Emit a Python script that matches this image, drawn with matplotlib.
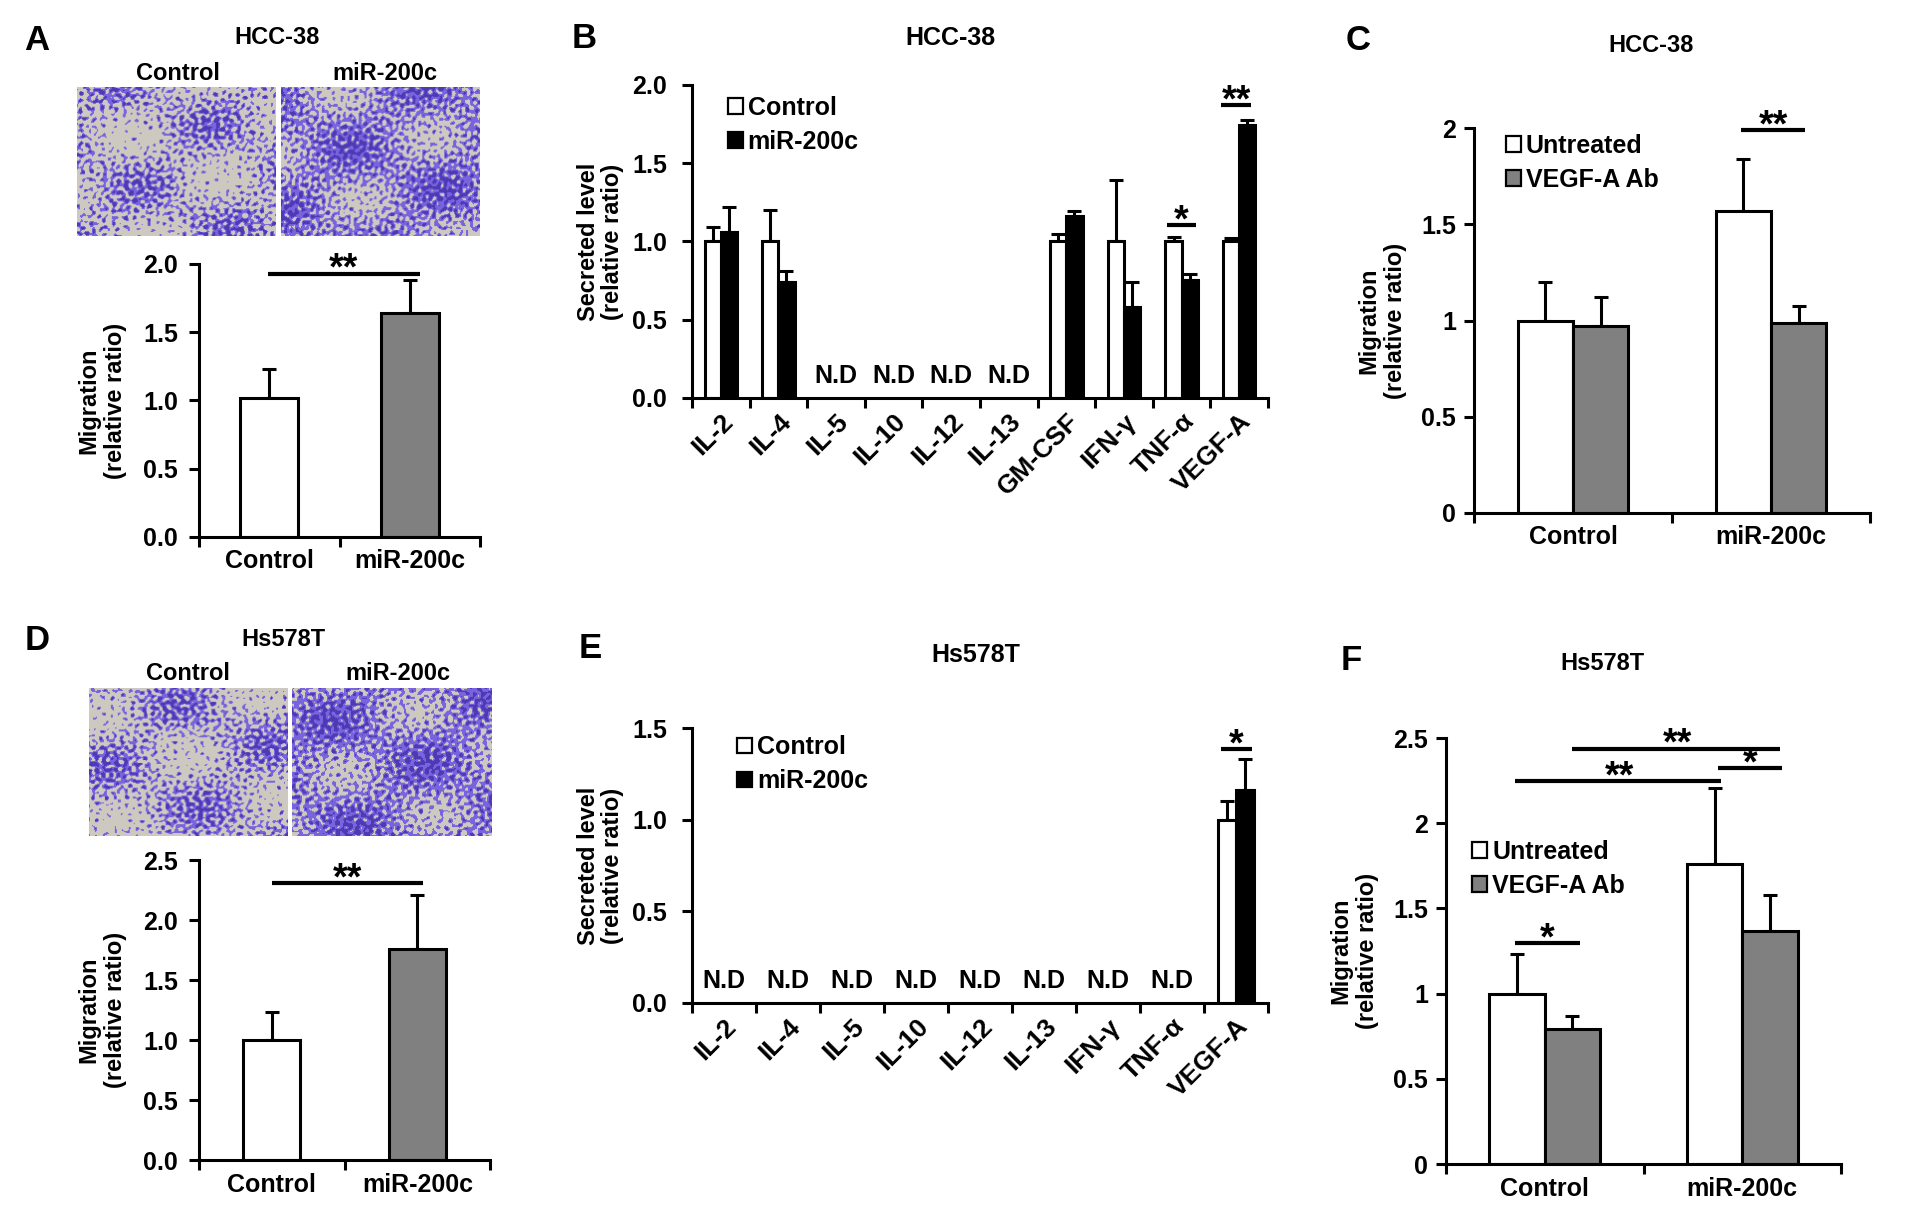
import numpy as np
import matplotlib
matplotlib.use("Agg")
import matplotlib.pyplot as plt
from matplotlib.patches import Patch
from matplotlib import font_manager

# ---- data ----
# A: HCC-38 transwell migration
a_groups = ["Control", "miR-200c"]
a_means = [1.02, 1.64]
a_errs = [0.21, 0.24]

# B: HCC-38 secreted cytokines (nan = not detected)
nd = np.nan
b_cats = ["IL-2", "IL-4", "IL-5", "IL-10", "IL-12", "IL-13", "GM-CSF", "IFN-γ", "TNF-α", "VEGF-A"]
b_ctrl = [1.0, 1.0, nd, nd, nd, nd, 1.0, 1.0, 1.0, 1.0]
b_ctrl_err = [0.09, 0.20, nd, nd, nd, nd, 0.05, 0.39, 0.03, 0.02]
b_mir = [1.06, 0.74, nd, nd, nd, nd, 1.16, 0.58, 0.755, 1.745]
b_mir_err = [0.16, 0.07, nd, nd, nd, nd, 0.035, 0.16, 0.035, 0.03]

# C: HCC-38 migration with VEGF-A antibody
c_groups = ["Control", "miR-200c"]
c_untr = [1.0, 1.57]
c_untr_err = [0.20, 0.27]
c_vegf = [0.97, 0.985]
c_vegf_err = [0.15, 0.09]

# D: Hs578T transwell migration
d_groups = ["Control", "miR-200c"]
d_means = [1.0, 1.76]
d_errs = [0.235, 0.45]

# E: Hs578T secreted cytokines
e_cats = ["IL-2", "IL-4", "IL-5", "IL-10", "IL-12", "IL-13", "IFN-γ", "TNF-α", "VEGF-A"]
e_ctrl = [nd, nd, nd, nd, nd, nd, nd, nd, 1.0]
e_ctrl_err = [nd, nd, nd, nd, nd, nd, nd, nd, 0.10]
e_mir = [nd, nd, nd, nd, nd, nd, nd, nd, 1.16]
e_mir_err = [nd, nd, nd, nd, nd, nd, nd, nd, 0.17]

# F: Hs578T migration with VEGF-A antibody
f_groups = ["Control", "miR-200c"]
f_untr = [1.0, 1.76]
f_untr_err = [0.235, 0.445]
f_vegf = [0.795, 1.37]
f_vegf_err = [0.075, 0.21]

# ---- fonts ----
plt.rcParams["font.family"] = ["Liberation Sans", "DejaVu Sans"]
plt.rcParams["font.weight"] = "bold"
names = {f.name for f in font_manager.fontManager.ttflist}
NARROW = ["Liberation Sans Narrow", "Liberation Sans", "DejaVu Sans"] if "Liberation Sans Narrow" in names \
    else ["Liberation Sans", "DejaVu Sans"]

W, H = 1907, 1214
fig = plt.figure(figsize=(W / 100, H / 100), dpi=100)
fig.patch.set_facecolor("white")

GRAY = "#808080"
LW = 2.2
TICK = 18      # y tick labels
XLAB = 18      # x tick labels (upright)
STAR = 27


def px_axes(l, t, r, b):
    return fig.add_axes([l / W, 1 - b / H, (r - l) / W, (b - t) / H])


def ftext(x, y, s, size, family=None, **kw):
    fig.text(x / W, 1 - y / H, s, fontsize=size, fontweight="bold", ha="center", va="center",
             family=family, **kw)


def style(ax, ymax, ystep, fmt, labels, xsize, ysize, rot=0, family=None, pad=9, ypad=6):
    n = len(labels)
    ax.set_xlim(-0.5, n - 0.5)
    ax.set_ylim(0, ymax)
    for s in ["top", "right"]:
        ax.spines[s].set_visible(False)
    for s in ["left", "bottom"]:
        ax.spines[s].set_linewidth(LW)
    yt = np.arange(0, ymax + 1e-9, ystep)
    ax.set_yticks(yt)
    ax.set_yticklabels([fmt(v) for v in yt], fontsize=ysize, fontweight="bold", family=family)
    ax.set_xticks(np.arange(-0.5, n, 1.0))
    ax.set_xticklabels([])
    ax.set_xticks(np.arange(n), minor=True)
    if rot:
        ax.set_xticklabels(labels, minor=True, fontsize=xsize, fontweight="bold", rotation=rot,
                           ha="right", va="top", rotation_mode="anchor")
    else:
        ax.set_xticklabels(labels, minor=True, fontsize=xsize, fontweight="bold")
    ax.tick_params(axis="x", which="minor", length=0, pad=pad)
    ax.tick_params(axis="both", which="major", direction="out", length=7, width=LW)
    ax.tick_params(axis="y", pad=ypad)
    ax.set_facecolor("none")


def bars(ax, x, h, e, color, width):
    x = np.asarray(x, float)
    h = np.asarray(h, float)
    e = np.asarray(e, float)
    ok = ~np.isnan(h)
    ax.errorbar(x[ok], h[ok], yerr=[np.zeros(ok.sum()), e[ok]], fmt="none", ecolor="black",
                elinewidth=LW, capsize=5, capthick=LW, zorder=1)
    ax.bar(x[ok], h[ok], width, color=color, edgecolor="black", linewidth=LW, zorder=2)


def sig(ax, x1, x2, y, s, xs=None):
    ax.plot([x1, x2], [y, y], color="black", lw=3.0, clip_on=False, solid_capstyle="butt")
    xs = (x1 + x2) / 2 if xs is None else xs
    ax.annotate(s, xy=(xs, y), xytext=(0, -4.5), textcoords="offset points", ha="center",
                va="baseline", fontsize=STAR, fontweight="bold", annotation_clip=False)


def legend(ax, entries, x, y, size, family=None):
    handles = [Patch(facecolor=c, edgecolor="black", linewidth=1.6, label=l) for l, c in entries]
    leg = ax.legend(handles=handles, loc="upper left", bbox_to_anchor=(x, y),
                    bbox_transform=ax.transData, frameon=False, handlelength=0.6, handleheight=0.6,
                    handletextpad=0.2, labelspacing=0.4, borderpad=0, borderaxespad=0,
                    prop={"size": size, "weight": "bold", "family": family or ["Liberation Sans"]})
    return leg


def cells(dense, phase):
    # stand-in for the stained transwell photo: deterministic quasi-random blotch texture
    yy, xx = np.mgrid[0:150, 0:200].astype(float)
    f = np.zeros_like(xx)
    for k in range(20):
        ang = k * 2.39996 + phase
        fr = 0.55 + 0.65 * ((k * 0.6180339 + phase) % 1)
        f += np.sin(fr * (xx * np.cos(ang) + yy * np.sin(ang)) + k * 1.7 + phase)
    g = np.sin(0.045 * xx + 0.05 * yy + phase) + np.sin(0.03 * xx - 0.065 * yy + 2 * phase)
    f = f + 2.0 * g
    bg = np.array([206, 201, 192]) / 255
    pu = np.array([120, 100, 222]) / 255
    dk = np.array([78, 58, 180]) / 255
    img = np.empty(f.shape + (3,))
    img[:] = bg
    img[f > np.quantile(f, 1 - dense)] = pu
    img[f > np.quantile(f, 1 - dense * 0.3)] = dk
    return img


def photo(l, t, r, b, dense, shift):
    ax = px_axes(l, t, r, b)
    ax.imshow(cells(dense, shift), aspect="auto", interpolation="bilinear")
    ax.set_axis_off()


fmt1 = lambda v: f"{v:.1f}"
fmtg = lambda v: f"{v:g}"

# ================= A =================
ftext(37, 41, "A", 25)
ftext(277, 38, "HCC-38", 17)
ftext(178, 73, "Control", 17)
ftext(385, 73, "miR-200c", 17)
photo(77, 87, 275, 236, 0.38, 0.0)
photo(281, 87, 479, 236, 0.60, 1.7)
ax = px_axes(199, 264, 480, 537)
style(ax, 2.0, 0.5, fmt1, a_groups, XLAB, TICK, ypad=8)
xa = np.arange(2)
ax.errorbar(xa, a_means, yerr=[[0, 0], a_errs], fmt="none", ecolor="black", elinewidth=LW,
            capsize=5, capthick=LW, zorder=1)
ax.bar(xa, a_means, 0.41, color=["white", GRAY], edgecolor="black", linewidth=LW, zorder=2)
sig(ax, -0.01, 1.07, 1.93, "**")
ax.set_ylabel("Migration\n(relative ratio)", fontsize=17, fontweight="bold", labelpad=12)

# ================= B =================
ftext(584, 39, "B", 25)
ftext(950, 38, "HCC-38", 18, family=NARROW)
ax = px_axes(692, 85, 1268, 398)
style(ax, 2.0, 0.5, fmt1, b_cats, 19, TICK, rot=45, family=NARROW, pad=8, ypad=11)
xb = np.arange(len(b_cats))
bars(ax, xb - 0.14, b_ctrl, b_ctrl_err, "white", 0.28)
bars(ax, xb + 0.14, b_mir, b_mir_err, "black", 0.28)
for i, v in enumerate(b_ctrl):
    if np.isnan(v):
        ax.text(i, 0.14, "N.D", ha="center", va="center", fontsize=18, fontweight="bold", family=NARROW)
sig(ax, 7.75, 8.25, 1.107, "*")
sig(ax, 8.69, 9.21, 1.87, "**")
legend(ax, [("Control", "white"), ("miR-200c", "black")], 0.12, 1.93, 18, NARROW)
ax.set_ylabel("Secreted level\n(relative ratio)", fontsize=17, fontweight="bold", labelpad=6,
              linespacing=1.05)

# ================= C =================
ftext(1358, 40, "C", 25)
ftext(1651, 46, "HCC-38", 17)
ax = px_axes(1474, 128, 1870, 513)
style(ax, 2.0, 0.5, fmtg, c_groups, XLAB, TICK, ypad=6)
xc = np.arange(2)
bars(ax, xc - 0.14, c_untr, c_untr_err, "white", 0.28)
bars(ax, xc + 0.14, c_vegf, c_vegf_err, GRAY, 0.28)
sig(ax, 0.85, 1.17, 1.99, "**")
legend(ax, [("Untreated", "white"), ("VEGF-A Ab", GRAY)], -0.34, 1.97, 18)
ax.set_ylabel("Migration\n(relative ratio)", fontsize=17, fontweight="bold", labelpad=10)

# ================= D =================
ftext(37, 641, "D", 25)
ftext(283, 639, "Hs578T", 17)
ftext(188, 673, "Control", 17)
ftext(398, 673, "miR-200c", 17)
photo(89, 688, 287, 836, 0.40, 3.1)
photo(292, 688, 491, 836, 0.64, 4.4)
ax = px_axes(199, 860, 490, 1160)
style(ax, 2.5, 0.5, fmt1, d_groups, XLAB, TICK, ypad=8)
xd = np.arange(2)
ax.errorbar(xd, d_means, yerr=[[0, 0], d_errs], fmt="none", ecolor="black", elinewidth=LW,
            capsize=5, capthick=LW, zorder=1)
ax.bar(xd, d_means, 0.39, color=["white", GRAY], edgecolor="black", linewidth=LW, zorder=2)
sig(ax, 0.0, 1.04, 2.31, "**")
ax.set_ylabel("Migration\n(relative ratio)", fontsize=17, fontweight="bold", labelpad=12)

# ================= E =================
ftext(590, 649, "E", 25)
ftext(976, 655, "Hs578T", 18, family=NARROW)
ax = px_axes(692, 728, 1268, 1003)
style(ax, 1.5, 0.5, fmt1, e_cats, 19, TICK, rot=45, family=NARROW, pad=8, ypad=11)
xe = np.arange(len(e_cats))
bars(ax, xe - 0.14, e_ctrl, e_ctrl_err, "white", 0.27)
bars(ax, xe + 0.14, e_mir, e_mir_err, "black", 0.27)
for i, v in enumerate(e_ctrl):
    if np.isnan(v):
        ax.text(i, 0.12, "N.D", ha="center", va="center", fontsize=18, fontweight="bold", family=NARROW)
sig(ax, 7.76, 8.25, 1.386, "*")
legend(ax, [("Control", "white"), ("miR-200c", "black")], 0.21, 1.46, 18, NARROW)
ax.set_ylabel("Secreted level\n(relative ratio)", fontsize=17, fontweight="bold", labelpad=6,
              linespacing=1.05)

# ================= F =================
ftext(1351, 660, "F", 25)
ftext(1602, 663, "Hs578T", 17)
ax = px_axes(1446, 738, 1841, 1164)
style(ax, 2.5, 0.5, fmtg, f_groups, XLAB, TICK, ypad=6)
xf = np.arange(2)
bars(ax, xf - 0.14, f_untr, f_untr_err, "white", 0.28)
bars(ax, xf + 0.14, f_vegf, f_vegf_err, GRAY, 0.28)
sig(ax, 0.14, 1.19, 2.438, "**", xs=0.67)
sig(ax, 0.875, 1.2, 2.322, "*", xs=1.04)
sig(ax, -0.153, 0.894, 2.246, "**", xs=0.376)
sig(ax, -0.151, 0.176, 1.295, "*", xs=0.014)
legend(ax, [("Untreated", "white"), ("VEGF-A Ab", GRAY)], -0.367, 1.90, 18)
ax.set_ylabel("Migration\n(relative ratio)", fontsize=17, fontweight="bold", labelpad=10)

fig.savefig("out.png", dpi=100, facecolor="white")
